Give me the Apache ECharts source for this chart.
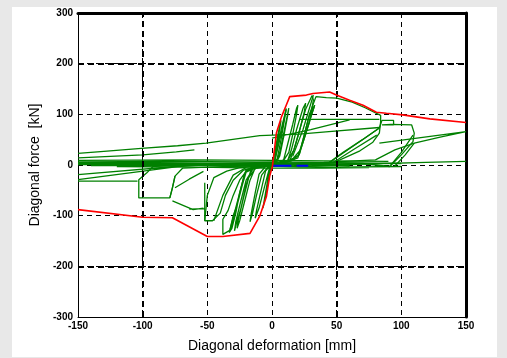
<!DOCTYPE html>
<html>
<head>
<meta charset="utf-8">
<script src="https://cdn.jsdelivr.net/npm/echarts@6/dist/echarts.min.js"></script>
<style>
  html, body { margin: 0; padding: 0; background: #e8e8e8; }
  #chart { width: 507px; height: 358px; }
</style>
</head>
<body>
<div id="chart"></div>
<script>
// Axis ticks
const xTicks = [-150, -100, -50, 0, 50, 100, 150];
const yTicks = [-300, -200, -100, 0, 100, 200, 300];

// Envelope curve (deformation mm, force kN)
const envelope = [
  [-150, -88], [-100, -103], [-77, -104], [-50, -141], [-38, -141], [-17, -135],
  [-9.5, -101], [-4.3, -62], [-1.8, -22], [0.3, -3], [3.4, 63], [7.3, 95],
  [11, 118], [13.7, 135], [26.6, 138], [31.7, 141], [44.6, 144], [49.8, 138],
  [60, 128], [70.4, 118], [80.7, 104], [88.5, 102], [101, 99], [122, 91], [150, 84]
];

// Short initial stretch
const initialStretch = [[1, -1.5], [15, -1.5], null, [19, -1.5], [28, -1.5]];

// Hysteresis cycles, in loading order
const cycleA = [
  [0, 0], [2, 25], [4, 52], [6, 78], [7, 88], [6, 72], [4, 40], [2, 10], [0, 1],
  [-1, -6], [-3, -35], [-5, -62], [-7, -85], [-6, -70], [-4, -40], [-2, -10], [0, -1],
  [2, 6], [5, 45], [8, 80], [11, 110], [10, 95], [7, 50], [4, 12], [1, 2],
  [-2, -6], [-6, -45], [-10, -85], [-13, -105], [-12, -90], [-8, -45], [-5, -12], [-2, -3]
];
// Repeated cycles at the small and medium amplitudes
const cycleRepeat = [
  [-2, -3], [3, 3], [6, 25], [9, 62], [12, 100], [13, 112], [12, 96], [9, 55], [6, 18], [3, 3],
  [-3, -3], [-8, -20], [-12, -60], [-15, -95], [-17, -112], [-16, -95], [-13, -55], [-10, -18], [-5, -3],
  [4, 3], [9, 10], [12, 40], [16, 80], [19, 112], [20, 118], [19, 100], [16, 60], [13, 25], [8, 5],
  [-5, -3], [-13, -6], [-17, -30], [-21, -70], [-25, -110], [-27, -125], [-26, -108], [-22, -65], [-18, -25], [-12, -4],
  [5, 3], [12, 8], [15, 30], [19, 70], [24, 112], [26, 122], [25, 105], [21, 65], [17, 30], [12, 8],
  [-8, -3], [-16, -8], [-20, -40], [-24, -85], [-28, -120], [-29, -130], [-28, -112], [-24, -70], [-20, -30], [-14, -5], [-4, -1]
];
const cycleB = [
  [-2, -3], [5, 3], [14, 10], [17, 30], [22, 75], [26, 110], [31, 137], [32, 128],
  [29, 85], [24, 45], [20, 18], [15, 8], [5, 2], [-5, -2], [-15, -8], [-20, -14],
  [-23, -40], [-27, -80], [-30, -100], [-33, -133], [-31, -125], [-28, -95],
  [-25, -55], [-21, -15], [-15, -4], [-5, 0],
  [10, 4], [21, 20], [25, 60], [29, 100], [33, 118], [30, 95], [26, 60], [22, 30], [16, 12], [5, 3],
  [-10, -3], [-20, -9], [-24, -45], [-28, -90], [-32, -128], [-38, -137], [-38, -107],
  [-34, -90], [-30, -60], [-25, -30], [-19, -9], [-8, -1]
];
const cycleC = [
  [-8, -1], [10, 4], [20, 14], [24, 50], [29, 100], [34, 135], [42, 133], [50, 132],
  [62, 124], [72, 113], [84, 98], [84, 85], [83, 63], [78, 45], [68, 28], [56, 14],
  [47, 4], [30, 2], [10, 1], [-10, -2], [-25, -5], [-35, -12], [-45, -25], [-50, -60],
  [-52, -110], [-46, -110], [-40, -95], [-36, -60], [-30, -30], [-22, -10], [-10, -2], [0, 0]
];
const cycleD = [
  [0, 0], [20, 2], [42, 1], [55, 25], [70, 50], [83, 73], [85, 88], [94, 88], [94, 79],
  [85, 79], [92, 80], [108, 79], [110, 63], [109, 46], [100, 20], [91, -3], [70, 3],
  [40, 4], [10, 2], [-20, -2], [-50, -4], [-69, -6], [-75, -22], [-77, -45], [-79, -65],
  [-103, -65], [-103, -29], [-97, -16], [-92, -3], [-70, 2], [-40, 3], [0, 3]
];
const cycleE = [
  [0, 3], [40, 5], [80, 10], [95, 30], [110, 43], [130, 55], [150, 66], null,
  [150, 7], [119, 5], [60, 1], [21, -3], [-30, -1], [-100, 2], [-150, 3], null,
  [-150, -32], [-104, -32], null,
  [-150, -29], [-73, -3], [-40, 2], [0, 5], null,
  [-150, -19], [-57, 1], [-20, 4], [10, 6], null,
  [-150, 23], [-130, 27], [-101, 33], [-73, 38], [-51, 43], [-9.5, 58], [21, 61], [44, 66], [83, 74], null,
  [-150, 14], [-100, 20], [-74, 26], [-60, 30], null,
  [21, 90], [83, 90], null,
  [0, 53], [30, 70], [60, 89], null,
  [83, 43], [150, 66]
];
// Pinched sliding near zero force
const slideBand = [
  [-150, 9], [-60, 10], [0, 9], [40, 8], [90, 7], null,
  [-150, 6], [-80, 7], [-20, 6], [30, 5], [100, 3], null,
  [-150, 4], [-90, 4], [-30, 3], [20, 2], [60, 1], null,
  [-150, 1], [-90, 2], [-30, 1], [20, 0], [60, -1], null,
  [-140, -1], [-70, 0], [-10, -2], [50, -4], [100, -3], null,
  [-120, -3], [-60, -4], [-5, -6], [40, -6], [75, -5]
];
// Reloading branches between cycles
const reloadLines = [
  [42, 0.6], [62, 36], [83, 73], null,
  [47, 4.5], [64, 32], [81, 59], null,
  [91, -3], [100, 25], [109, 59], null,
  [95, -2], [103, 20], [110, 43], null,
  [-75, -45], [-64, -28], [-53, -12.5], null,
  [-77, -71], [-61, -88], [-53, -85], null,
  [-52, -35], [-52, -110], null,
  [-79, -65], [-77, -45], [-75, -22], null,
  [-64, -87], [-52, -86], null,
  [-45, -110], [-38, -60], [-30, -20], [-20, -5], null,
  [-33, -133], [-21, -16], null,
  [16, 17], [24, 70], [32, 138], null,
  [21, 20], [27, 70], [33, 118], null,
  [2, 7], [7, 60], [11, 112]
];

const greenSets = [cycleA, cycleRepeat, cycleB, cycleC, cycleD, cycleE, slideBand, reloadLines];

const chart = echarts.init(document.getElementById('chart'), null, { renderer: 'canvas' });

const labelFont = { fontFamily: 'Liberation Sans, Arial, sans-serif', fontSize: 10, fontWeight: 'bold', color: '#000' };
const dashed = { type: [5, 4], color: '#000', width: 1 };

function lineSeries(data, color, width, z) {
  return {
    type: 'line', data: data, showSymbol: false, symbol: 'none', connectNulls: false,
    lineStyle: { color: color, width: width }, z: z, silent: true, animation: false,
    xAxisIndex: 0, yAxisIndex: 0
  };
}

const series = [];
greenSets.forEach(s => series.push(lineSeries(s, '#008000', 1.3, 3)));
series.push(lineSeries(initialStretch, '#0000ff', 2, 4));
series.push(lineSeries(envelope, '#ff0000', 1.6, 5));
// heavier grid lines
series.push({
  type: 'line', data: [], xAxisIndex: 0, yAxisIndex: 0, silent: true, z: 1,
  markLine: {
    symbol: 'none', silent: true, label: { show: false }, animation: false,
    lineStyle: { type: [6, 4], color: '#000', width: 2 },
    data: [{ xAxis: -100 }, { xAxis: 50 }, { yAxis: 200 }, { yAxis: -200 }]
  }
});

chart.setOption({
  backgroundColor: '#e8e8e8',
  animation: false,
  graphic: [{
    type: 'rect', left: 12, top: 7, z: -10, silent: true,
    shape: { width: 485, height: 350 }, style: { fill: '#ffffff' }
  }],
  grid: { left: 78, right: 41, top: 13, bottom: 39, containLabel: false },
  xAxis: [{
    type: 'value', min: xTicks[0], max: xTicks[xTicks.length - 1], interval: 50,
    position: 'bottom',
    name: 'Diagonal deformation [mm]', nameLocation: 'middle', nameGap: 22,
    nameTextStyle: { fontFamily: 'Liberation Sans, Arial, sans-serif', fontSize: 14, color: '#000' },
    axisLine: { show: true, onZero: false, lineStyle: { color: '#000', width: 1 } },
    axisTick: { show: false },
    axisLabel: Object.assign({ margin: 4 }, labelFont),
    splitLine: { show: true, lineStyle: dashed }
  }, {
    type: 'value', min: xTicks[0], max: xTicks[xTicks.length - 1], interval: 50,
    position: 'top',
    axisLine: { show: true, onZero: false, lineStyle: { color: '#000', width: 3 } },
    axisTick: { show: false }, axisLabel: { show: false }, splitLine: { show: false }
  }],
  yAxis: [{
    type: 'value', min: yTicks[0], max: yTicks[yTicks.length - 1], interval: 100,
    position: 'left',
    name: 'Diagonal force  [kN]', nameLocation: 'middle', nameGap: 34, nameRotate: 90,
    nameTextStyle: { fontFamily: 'Liberation Sans, Arial, sans-serif', fontSize: 14, color: '#000' },
    axisLine: { show: true, onZero: false, lineStyle: { color: '#000', width: 1 } },
    axisTick: { show: false },
    axisLabel: Object.assign({ margin: 5 }, labelFont),
    splitLine: { show: true, lineStyle: dashed }
  }, {
    type: 'value', min: yTicks[0], max: yTicks[yTicks.length - 1], interval: 100,
    position: 'right',
    axisLine: { show: true, onZero: false, lineStyle: { color: '#000', width: 3 } },
    axisTick: { show: false }, axisLabel: { show: false }, splitLine: { show: false }
  }],
  series: series
});
</script>
</body>
</html>
